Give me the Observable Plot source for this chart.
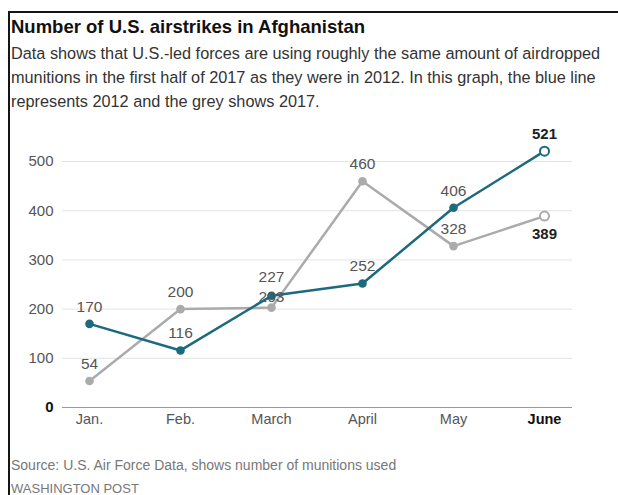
<!DOCTYPE html>
<html>
<head>
<meta charset="utf-8">
<script src="https://cdn.jsdelivr.net/npm/d3@7"></script>
<script src="https://cdn.jsdelivr.net/npm/@observablehq/plot@0.6"></script>
<style>
  html, body { margin: 0; padding: 0; background: #fff; }
  body { width: 618px; height: 495px; overflow: hidden; position: relative; font-family: "Liberation Sans", Arial, sans-serif; }
  #frame { position: absolute; left: 8px; top: 11px; width: 640px; height: 500px; border-left: 2px solid #151515; border-top: 2px solid #151515; }
  #title { position: absolute; left: 11px; top: 16px; font-size: 18.5px; font-weight: bold; color: #111; line-height: 22px; white-space: nowrap; }
  #subtitle { position: absolute; left: 11px; top: 41px; font-size: 16.3px; color: #333; line-height: 24px; white-space: nowrap; }
  #chart { position: absolute; left: 0; top: 110px; }
  #source { position: absolute; left: 11px; top: 457px; font-size: 14px; color: #777; white-space: nowrap; }
  #credit { position: absolute; left: 11px; top: 481px; font-size: 13px; color: #777; white-space: nowrap; }
</style>
</head>
<body>
<div id="frame"></div>
<div id="title">Number of U.S. airstrikes in Afghanistan</div>
<div id="subtitle">Data shows that U.S.-led forces are using roughly the same amount of airdropped<br>munitions in the first half of 2017 as they were in 2012. In this graph, the blue line<br>represents 2012 and the grey shows 2017.</div>
<div id="chart"></div>
<div id="source">Source: U.S. Air Force Data, shows number of munitions used</div>
<div id="credit">WASHINGTON POST</div>
<script>
const months = ["Jan.", "Feb.", "March", "April", "May", "June"];
const values2012 = [170, 116, 227, 252, 406, 521];
const values2017 = [54, 200, 203, 460, 328, 389];
const yTicks = [0, 100, 200, 300, 400, 500];

const blue = "#1b6a7e";
const grey = "#ababab";

const rows2012 = months.map((m, i) => ({month: m, value: values2012[i]}));
const rows2017 = months.map((m, i) => ({month: m, value: values2017[i]}));
const last = months.length - 1;

const labelAbove2012 = rows2012.filter((d, i) => i !== 2 && i !== last);
const labelAbove2017 = rows2017.filter((d, i) => i !== 2 && i !== last);

const chart = Plot.plot({
  width: 618,
  height: 330,
  marginLeft: 62,
  marginRight: 46,
  marginTop: 51,
  marginBottom: 33,
  style: {fontFamily: "'Liberation Sans', Arial, sans-serif", background: "transparent"},
  x: {type: "point", domain: months, range: [87, 546], padding: 0},
  y: {domain: [0, 500]},
  marks: [
    Plot.ruleY(yTicks.filter(d => d > 0), {stroke: "#e3e3e3", strokeWidth: 1}),
    Plot.ruleY([0], {stroke: "#9a9a9a", strokeWidth: 1}),
    Plot.axisY(yTicks.filter(d => d > 0), {tickSize: 0, tickPadding: 9, fontSize: 15, fill: "#555", label: null}),
    Plot.axisY([0], {tickSize: 0, tickPadding: 9, fontSize: 15, fontWeight: "bold", fill: "#111", label: null}),
    Plot.axisX(months.slice(0, last), {tickSize: 0, tickPadding: 6, fontSize: 14.5, fill: "#555", label: null}),
    Plot.axisX([months[last]], {tickSize: 0, tickPadding: 6, fontSize: 14.5, fontWeight: "bold", fill: "#111", label: null}),
    Plot.line(rows2017, {x: "month", y: "value", stroke: grey, strokeWidth: 2.5}),
    Plot.line(rows2012, {x: "month", y: "value", stroke: blue, strokeWidth: 2.5}),
    Plot.dot(rows2017.slice(0, last), {x: "month", y: "value", r: 4.3, fill: grey}),
    Plot.dot(rows2012.slice(0, last), {x: "month", y: "value", r: 4.3, fill: blue}),
    Plot.dot(rows2017.slice(last), {x: "month", y: "value", r: 4.5, fill: "#fff", stroke: grey, strokeWidth: 2}),
    Plot.dot(rows2012.slice(last), {x: "month", y: "value", r: 4.5, fill: "#fff", stroke: blue, strokeWidth: 2}),
    Plot.text(labelAbove2017, {x: "month", y: "value", text: d => String(d.value), dy: -17, fontSize: 15.5, fill: "#555"}),
    Plot.text(labelAbove2012, {x: "month", y: "value", text: d => String(d.value), dy: -17, fontSize: 15.5, fill: "#555"}),
    Plot.text(rows2017.slice(2, 3), {x: "month", y: "value", text: d => String(d.value), dy: -11, fontSize: 15.5, fill: "#555"}),
    Plot.text(rows2012.slice(2, 3), {x: "month", y: "value", text: d => String(d.value), dy: -19, fontSize: 15.5, fill: "#555"}),
    Plot.text(rows2012.slice(last), {x: "month", y: "value", text: d => String(d.value), dy: -17, fontSize: 15, fontWeight: "bold", fill: "#222"}),
    Plot.text(rows2017.slice(last), {x: "month", y: "value", text: d => String(d.value), dy: 18, fontSize: 15, fontWeight: "bold", fill: "#222"})
  ]
});
document.getElementById("chart").appendChild(chart);
</script>
</body>
</html>
